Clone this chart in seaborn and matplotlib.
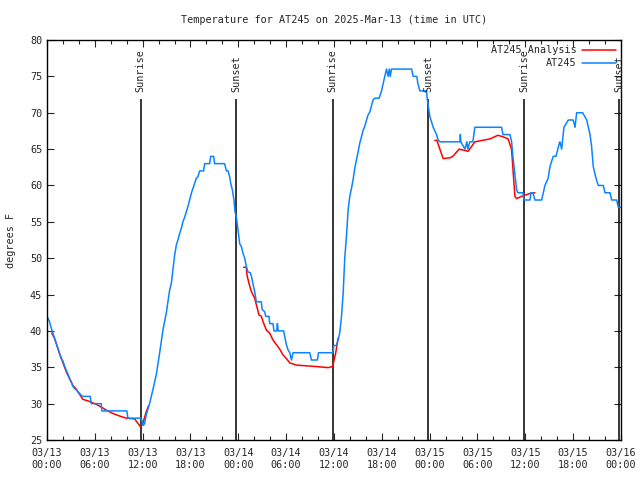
import numpy as np
import pandas as pd
import matplotlib
matplotlib.use("Agg")
import matplotlib.pyplot as plt
import matplotlib.dates as mdates
from matplotlib.lines import Line2D
import seaborn as sns

# Temperatura AT245 - horas desde 2025-03-13 00:00 UTC
start = pd.Timestamp("2025-03-13 00:00")

obs_hours = [0.0, 0.31, 0.53, 0.73, 0.94, 1.16, 1.36, 1.57, 1.78, 1.98, 2.20, 2.41, 2.61, 2.82,
             3.04, 3.24, 3.45, 3.67, 4.08, 4.42, 5.42, 5.55, 6.80, 6.88, 10.02, 10.14, 11.83,
             12.03, 12.24, 12.45, 12.87, 13.28, 13.71, 14.12, 14.54, 14.97, 15.38, 15.59, 15.79,
             16.01, 16.22, 16.42, 16.64, 16.85, 17.05, 17.26, 17.48, 17.68, 17.89, 18.10, 18.31,
             18.52, 18.73, 18.93, 19.15, 19.65, 19.77, 20.40, 20.53, 20.90, 21.03, 22.28, 22.50,
             22.72, 22.91, 23.04, 23.25, 23.45, 23.58, 23.75, 23.95, 24.17, 24.38, 24.58, 24.80,
             25.01, 25.21, 25.51, 25.64, 25.84, 26.05, 26.26, 26.89, 26.97, 27.31, 27.43, 27.85,
             27.93, 28.35, 28.47, 28.81, 28.90, 29.00, 29.69, 29.82, 30.03, 30.23, 30.45, 30.66,
             30.86, 32.96, 33.17, 33.92, 34.05, 35.88, 35.97, 36.31, 36.51, 36.72, 36.94, 37.14,
             37.35, 37.56, 37.77, 37.98, 38.19, 38.39, 38.61, 38.82, 39.02, 39.23, 39.45, 39.65,
             39.86, 40.08, 40.28, 40.49, 40.90, 41.12, 41.66, 41.96, 42.16, 42.37, 42.59, 42.79,
             42.94, 43.06, 43.21, 45.73, 45.93, 46.39, 46.52, 46.77, 47.61, 47.68, 48.02, 48.44,
             48.86, 49.06, 49.28, 51.79, 51.85, 51.91, 52.42, 52.67, 52.79, 53.04, 53.42, 53.67,
             57.02, 57.19, 58.07, 58.28, 58.44, 58.91, 59.07, 59.70, 59.83, 60.58, 60.70, 60.95,
             61.20, 62.05, 62.25, 62.46, 62.87, 63.09, 63.50, 63.84, 64.26, 64.34, 64.56, 64.84,
             65.39, 66.01, 66.23, 66.44, 67.19, 67.70, 68.11, 68.32, 68.52, 68.86, 69.15, 69.78,
             69.99, 70.62, 70.83, 71.46, 71.66, 72.0]
obs_temp = [42, 41.3, 40.4, 39.7, 39, 38.3, 37.6, 36.9, 36.2, 35.9, 35.2, 34.6, 34.1, 33.5,
            33, 32.4, 32.1, 31.9, 31.4, 31, 31, 30, 30, 29, 29, 28, 28,
            27, 27.2, 28.5, 30, 31.9, 34, 36.9, 40.1, 42.5, 45.6, 46.5, 48.4,
            50.4, 51.8, 52.5, 53.4, 54.1, 55, 55.6, 56.4, 57.1, 58, 58.9, 59.6,
            60.3, 61, 61.2, 62, 62, 63, 63, 64, 64, 63, 63, 62,
            62, 61.2, 60.3, 59.4, 58, 56.4, 55.7, 53.9, 52, 51.6, 50.7, 50,
            48.8, 48.1, 48, 47.5, 46.5, 45.4, 44, 44, 43, 42.6, 42, 42,
            41, 41, 40, 40, 41, 40, 40, 39.2, 38.1, 37.4, 37, 36,
            37, 37, 36, 36, 37, 37, 38, 38, 38.75, 39.7, 42, 45,
            50, 53, 56.6, 58.5, 59.6, 60.75, 62.4, 63.5, 64.6, 65.8, 66.7, 67.6,
            68.1, 69, 69.7, 70.1, 71.75, 72, 72, 73, 74, 75, 76, 75,
            76, 75, 76, 76, 75, 75, 74, 73, 73, 72, 69.5, 68,
            67, 66.25, 66, 66, 67, 66, 65, 66, 65, 66, 66, 68,
            68, 67, 67, 66, 64, 59.4, 59, 59, 58, 58, 59, 59,
            58, 58, 59, 60, 61, 62.6, 64, 64, 65.8, 66, 65, 68,
            69, 69, 68, 70, 70, 69, 67, 65.3, 62.6, 61, 60, 60,
            59, 59, 58, 58, 57, 57]

# Analisis (tres tramos nocturnos)
ana_seg = [1] * 20 + [2] * 26 + [3] * 18
ana_hours = [0.60, 0.94, 1.57, 2.41, 3.24, 3.67, 4.49, 5.34, 6.18, 7.01, 7.43, 8.26, 9.10, 9.94,
             10.99, 11.40, 11.74, 12.03, 12.45, 12.74,
             24.67, 25.01, 25.08, 25.34, 25.64, 26.05, 26.26, 26.59, 26.89, 27.09, 27.52, 27.93,
             28.35, 28.78, 29.19, 29.60, 30.03, 30.45, 31.29, 32.54, 33.80, 35.25, 35.81, 35.97,
             36.22, 36.51,
             48.65, 48.90, 49.69, 50.53, 50.91, 51.70, 52.83, 53.67, 55.56, 56.56, 57.19, 57.85,
             58.28, 58.69, 58.91, 59.53, 60.58, 61.20]
ana_temp = [39.7, 39, 36.9, 34.4, 32.5, 32, 30.6, 30.3, 29.9, 29.4, 29.1, 28.65, 28.3, 28,
            27.9, 27.3, 26.8, 27.3, 28.9, 29.7,
            48.75, 48.75, 47.7, 46.5, 45.4, 44.5, 43.6, 42.2, 42, 41.3, 40.1, 39.7,
            38.75, 38.1, 37.5, 36.7, 36.2, 35.6, 35.3, 35.2, 35.1, 34.95, 35.1, 35.8,
            37, 39,
            66.2, 66.2, 63.7, 63.8, 64, 65, 64.7, 66, 66.4, 66.9, 66.7, 66.4,
            64.9, 58.5, 58.2, 58.5, 58.9, 59]

sun_hours = [11.75, 23.7, 35.85, 47.8, 59.85, 71.75]
sun_labels = ["Sunrise", "Sunset", "Sunrise", "Sunset", "Sunrise", "Sunset"]

obs = pd.DataFrame({"time": start + pd.to_timedelta(obs_hours, unit="h"), "temp": obs_temp})
ana = pd.DataFrame({"time": start + pd.to_timedelta(ana_hours, unit="h"), "temp": ana_temp,
                    "seg": ana_seg})

sns.set_style("ticks")
plt.rcParams["font.family"] = ["DejaVu Sans Mono"]
plt.rcParams["xtick.direction"] = "in"
plt.rcParams["ytick.direction"] = "in"

fig = plt.figure(figsize=(6.4, 4.8), dpi=100)
ax = fig.add_axes([47 / 640, 40 / 480, 574 / 640, 400 / 480])

red = "#ff0000"
blue = "#0a84ff"

sns.lineplot(data=ana, x="time", y="temp", units="seg", estimator=None, color=red,
             linewidth=1.1, ax=ax, legend=False)
sns.lineplot(data=obs, x="time", y="temp", color=blue, linewidth=1.1, ax=ax, legend=False)

# lineas de salida/puesta del sol
for h, lab in zip(sun_hours, sun_labels):
    t = start + pd.Timedelta(hours=h)
    ax.vlines(t, 25, 71.9, color="black", linewidth=1.1, zorder=1)
    ax.text(t, 72.9, lab, rotation=90, ha="center", va="bottom", fontsize=7.3)

ax.set_xlim(start, start + pd.Timedelta(hours=72))
ax.set_ylim(25, 80)
ax.set_yticks(range(25, 81, 5))
ax.xaxis.set_major_locator(mdates.HourLocator(byhour=[0, 6, 12, 18]))
ax.xaxis.set_minor_locator(mdates.HourLocator(byhour=range(0, 24, 2)))
ax.xaxis.set_major_formatter(mdates.DateFormatter("%m/%d\n%H:%M"))
ax.tick_params(which="major", length=5, width=0.8, labelsize=7.3, top=True, right=True)
ax.tick_params(which="minor", length=3, width=0.8, top=True)
ax.tick_params(axis="x", pad=6)
for s in ax.spines.values():
    s.set_visible(True)
    s.set_linewidth(1.0)
    s.set_color("black")

ax.set_title("Temperature for AT245 on 2025-Mar-13 (time in UTC)", fontsize=7.3, pad=12)
ax.set_ylabel("degrees F", fontsize=7.3, labelpad=10)
ax.set_xlabel("")

handles = [Line2D([], [], color=red, linewidth=1.1), Line2D([], [], color=blue, linewidth=1.1)]
leg = ax.legend(handles, ["AT245 Analysis", "AT245"], loc="upper right", frameon=False,
                markerfirst=False, fontsize=7.3, handlelength=3.3, borderaxespad=0.1,
                labelspacing=0.3, handletextpad=0.6)

fig.savefig("out.png", dpi=100)
